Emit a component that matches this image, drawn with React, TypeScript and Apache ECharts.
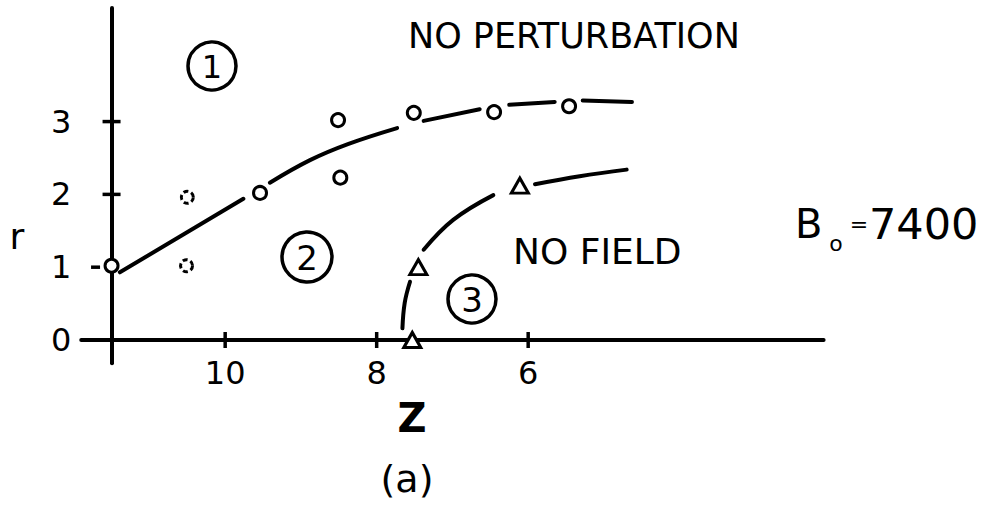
import React, { useEffect, useRef } from "react";
import * as echarts from "echarts";

// ---- data ----
const X_TICKS = [10, 8, 6];
const Y_TICKS = [0, 1, 2, 3];
const Y_AXIS_Z = 11.5;

// open circles (Z, r)
const circlePoints = [
  [11.5, 1.02],
  [9.54, 2.02],
  [8.51, 3.02],
  [8.48, 2.23],
  [7.51, 3.12],
  [6.45, 3.13],
  [5.46, 3.21],
];
// faint/dashed circles
const dashedCirclePoints = [
  [10.5, 1.96],
  [10.51, 1.02],
];
// open triangles (Z, r)
const trianglePoints = [
  [7.53, 0.0],
  [7.45, 1.0],
  [6.11, 2.12],
];

// boundary curve between regions 1 and 2 (broken at markers)
const upperCurveSegments = [
  [[11.39, 0.93], [9.76, 1.94]],
  [[9.41, 2.16], [8.88, 2.47], [8.38, 2.69], [7.73, 2.91]],
  [[7.38, 3.01], [6.64, 3.17]],
  [[6.25, 3.23], [5.65, 3.27]],
  [[5.28, 3.29], [4.63, 3.27]],
];
// boundary curve between regions 2 and 3
const lowerCurveSegments = [
  [[7.66, 0.16], [7.63, 0.51], [7.56, 0.8]],
  [[7.38, 1.24], [6.99, 1.65], [6.46, 1.99]],
  [[5.91, 2.14], [5.32, 2.25], [4.7, 2.34]],
];

const FONT = "'DejaVu Sans', sans-serif";

export default function App() {
  const ref = useRef<HTMLDivElement>(null);

  useEffect(() => {
    document.body.style.margin = "0";
    const chart = echarts.init(ref.current!, null, { renderer: "svg" });

    const lineSeries = (segs: number[][][]) =>
      segs.map((seg) => ({
        type: "line",
        data: seg,
        smooth: seg.length > 2 ? 0.4 : false,
        showSymbol: false,
        symbol: "none",
        silent: true,
        lineStyle: { color: "#000", width: 4, cap: "round" },
        z: 3,
      }));

    const circled = (cx: number, cy: number, r: number, t: string, fs: number) => ({
      type: "group",
      children: [
        {
          type: "circle",
          shape: { cx, cy, r },
          style: { fill: "none", stroke: "#000", lineWidth: 3.5 },
        },
        {
          type: "text",
          x: cx,
          y: cy + 1,
          style: {
            text: t,
            fontSize: fs,
            fontFamily: FONT,
            fill: "#000",
            align: "center",
            verticalAlign: "middle",
          },
        },
      ],
    });

    const txt = (x: number, y: number, t: string, fs: number, align = "left", weight = "normal") => ({
      type: "text",
      x,
      y,
      style: {
        text: t,
        fontSize: fs,
        fontFamily: FONT,
        fontWeight: weight,
        fill: "#000",
        align,
        verticalAlign: "middle",
      },
    });

    const markerStyle = { color: "#fff", borderColor: "#000", borderWidth: 3, opacity: 1 };

    chart.setOption({
      animation: false,
      backgroundColor: "#fff",
      grid: {
        left: 81.25,
        right: 173.4,
        top: 8,
        bottom: 142.7,
        containLabel: false,
        outerBoundsMode: "none",
      },
      xAxis: {
        type: "value",
        inverse: true,
        min: 2.1,
        max: 11.9,
        axisLine: { show: true, onZero: true, lineStyle: { color: "#000", width: 4 } },
        axisTick: { show: false },
        splitLine: { show: false },
        axisLabel: {
          customValues: X_TICKS,
          margin: -6,
          fontSize: 32,
          fontFamily: FONT,
          color: "#000",
        },
      },
      yAxis: {
        type: "value",
        min: -0.32,
        max: 4.56,
        position: "left",
        offset: -30,
        axisLine: { show: true, onZero: false, lineStyle: { color: "#000", width: 4 } },
        axisTick: { show: false },
        splitLine: { show: false },
        axisLabel: {
          customValues: Y_TICKS,
          margin: 40,
          fontSize: 32,
          fontFamily: FONT,
          color: "#000",
        },
      },
      series: [
        // cross tick marks on the axes
        {
          type: "scatter",
          data: X_TICKS.map((v) => [v, 0]),
          symbol: "rect",
          symbolSize: [3.5, 16],
          itemStyle: { color: "#000", opacity: 1 },
          silent: true,
          z: 2,
        },
        {
          type: "scatter",
          data: Y_TICKS.filter((v) => v >= 2).map((v) => [Y_AXIS_Z, v]),
          symbol: "rect",
          symbolSize: [18, 3.5],
          itemStyle: { color: "#000", opacity: 1 },
          silent: true,
          z: 2,
        },
        {
          type: "scatter",
          data: [[Y_AXIS_Z, 1]],
          symbol: "rect",
          symbolSize: [9, 3.5],
          symbolOffset: [-16, 0],
          itemStyle: { color: "#000", opacity: 1 },
          silent: true,
          z: 2,
        },
        ...lineSeries(upperCurveSegments),
        ...lineSeries(lowerCurveSegments),
        {
          type: "scatter",
          data: circlePoints,
          symbol: "circle",
          symbolSize: 13,
          itemStyle: markerStyle,
          silent: true,
          z: 4,
        },
        {
          type: "scatter",
          data: dashedCirclePoints,
          symbol: "circle",
          symbolSize: 12,
          itemStyle: { ...markerStyle, borderType: [5, 3] },
          silent: true,
          z: 4,
        },
        {
          type: "scatter",
          data: trianglePoints,
          symbol: "triangle",
          symbolSize: [17, 15],
          itemStyle: markerStyle,
          silent: true,
          z: 4,
        },
      ],
      graphic: [
        txt(408, 36, "NO PERTURBATION", 35),
        txt(513, 251, "NO FIELD", 36),
        circled(212, 66, 24, "1", 32),
        circled(307, 257, 25, "2", 34),
        circled(472, 299, 24, "3", 34),
        txt(17, 236, "r", 36, "center"),
        txt(412, 418, "Z", 40, "center", "bold"),
        txt(407, 479, "(a)", 38, "center"),
        txt(795, 224, "B", 40),
        txt(836, 243, "o", 22, "center"),
        txt(859, 224, "=", 22, "center"),
        txt(869, 224, "7400", 43),
      ],
    });

    return () => chart.dispose();
  }, []);

  return (
    <div
      ref={ref}
      style={{ position: "fixed", left: 0, top: 0, width: 997, height: 506, background: "#fff" }}
    />
  );
}
